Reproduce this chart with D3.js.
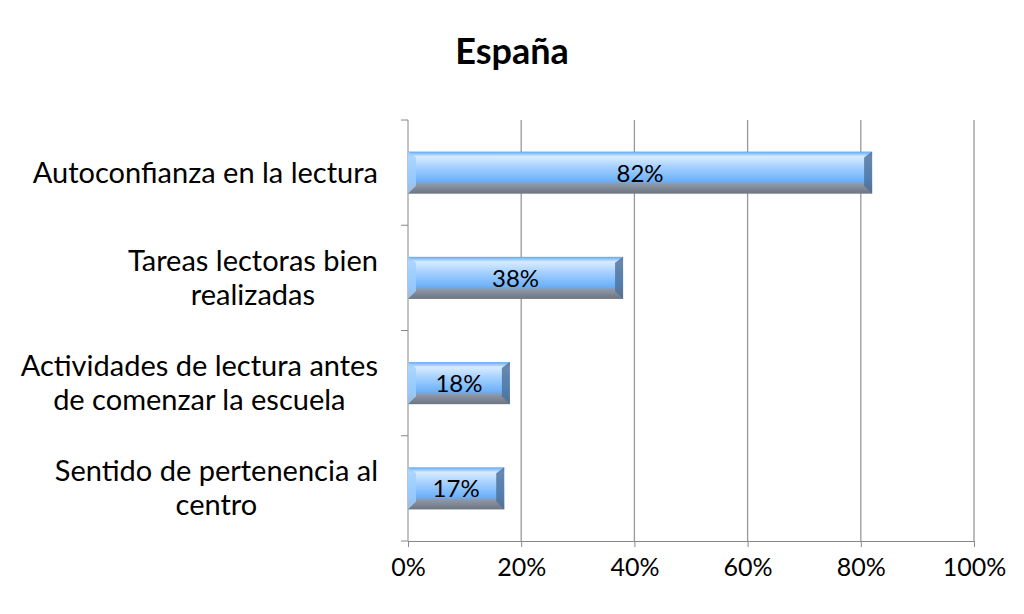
<!DOCTYPE html>
<html><head><meta charset="utf-8">
<script src="https://cdn.jsdelivr.net/npm/d3@7"></script>
<style>body{margin:0;background:#fff}text{font-family:Lato,"Open Sans",sans-serif}</style>
</head><body><svg id="c" width="1024" height="614"></svg>
<script>
const categories = [["Autoconfianza en la lectura"],["Tareas lectoras bien","realizadas"],["Actividades de lectura antes","de comenzar la escuela"],["Sentido de pertenencia al","centro"]];
const values = [82,38,18,17];
const ticks = [0,20,40,60,80,100];
const title = "España";

const svg = d3.select("#c");
const x = d3.scaleLinear().domain([0,100]).range([408,974]);
const y = d3.scaleBand().domain(d3.range(categories.length)).range([120,541]).paddingInner(0.6).paddingOuter(0.3);
const band = d3.scaleBand().domain(d3.range(categories.length)).range([120,541]);

const defs = svg.append("defs");
const g = defs.append("linearGradient").attr("id","bg").attr("x1",0).attr("x2",0).attr("y1",0).attr("y2",1);
[[0,"#5fa8f5"],[0.12,"#d8ecff"],[0.35,"#a9d2ff"],[0.7,"#6cb1fb"],[0.78,"#8c97a8"],[1,"#6e7480"]].forEach(([o,c])=>g.append("stop").attr("offset",o).attr("stop-color",c));

svg.append("text").attr("x",512).attr("y",64).attr("text-anchor","middle").attr("font-size",36).attr("font-weight","bold").text(title);

svg.selectAll(".grid").data(ticks.slice(1)).enter().append("line")
 .attr("x1",d=>x(d)).attr("x2",d=>x(d)).attr("y1",120).attr("y2",541).attr("stroke","#999").attr("stroke-width",1.3);

const ax = svg.append("g").attr("transform","translate(0,541)").call(d3.axisBottom(x).tickValues(ticks).tickFormat(d=>d+"%").tickSize(6).tickSizeOuter(0));
ax.select(".domain").attr("stroke","#888");
ax.selectAll(".tick line").attr("stroke","#888");
ax.selectAll("text").attr("font-size",25).attr("fill","#000").attr("dy","1.05em");

svg.append("line").attr("x1",408).attr("x2",408).attr("y1",120).attr("y2",541).attr("stroke","#888");
svg.selectAll(".yt").data(d3.range(categories.length+1)).enter().append("line")
 .attr("x1",401).attr("x2",408).attr("y1",d=>120+d*band.step()).attr("y2",d=>120+d*band.step()).attr("stroke","#888");

const bars = svg.selectAll(".bar").data(values).enter().append("g");
bars.append("rect").attr("x",x(0)).attr("y",(d,i)=>y(i)).attr("width",d=>x(d)-x(0)).attr("height",y.bandwidth()).attr("fill","url(#bg)");
bars.append("polygon").attr("points",(d,i)=>{const x1=x(d),t=y(i),b=t+y.bandwidth();return `${x1-8},${t+6} ${x1},${t} ${x1},${b} ${x1-8},${b-8}`}).attr("fill","#4a6f9a").attr("opacity",0.8);
bars.append("polygon").attr("points",(d,i)=>{const x0=x(0),t=y(i),b=t+y.bandwidth();return `${x0},${t} ${x0+8},${t+6} ${x0+8},${b-8} ${x0},${b}`}).attr("fill","#9fcfff").attr("opacity",0.8);
bars.append("text").attr("x",d=>(x(0)+x(d))/2).attr("y",(d,i)=>y(i)+y.bandwidth()/2+9).attr("text-anchor","middle").attr("font-size",24).text(d=>d+"%");

categories.forEach((lines,i)=>{
 const cy = band(i)+band.step()/2;
 const t = svg.append("text").attr("text-anchor","middle").attr("font-size",29);
 const spans = lines.map((l,j)=>t.append("tspan").attr("y",cy+10+(j-(lines.length-1)/2)*34).text(l));
 const w = d3.max(spans,s=>s.node().getComputedTextLength());
 spans.forEach(s=>s.attr("x",378-w/2));
});
</script></body></html>
